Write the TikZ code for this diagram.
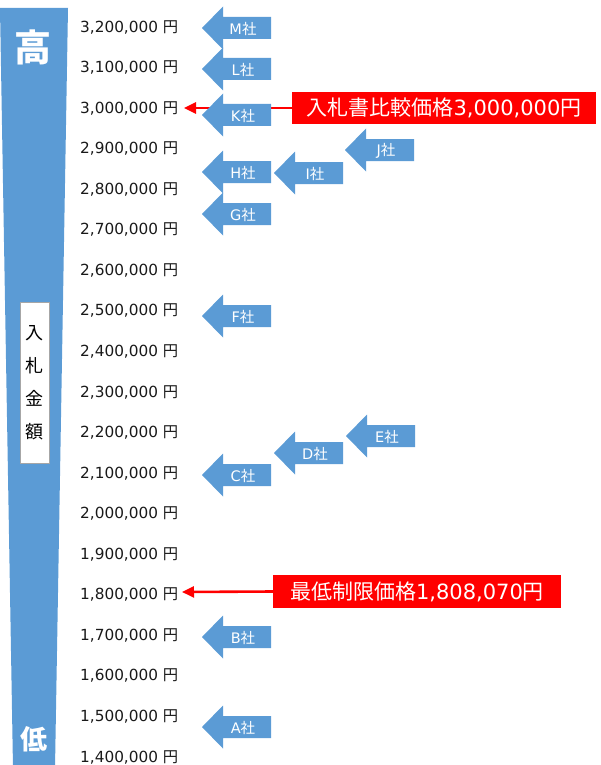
\documentclass[tikz,border=0pt]{standalone}
\usepackage{fontspec}
\setmainfont{DejaVu Sans}
\newfontfamily\cjk{Noto Sans CJK JP}
\usetikzlibrary{arrows.meta}
\definecolor{officeblue}{HTML}{5B9BD5}
\definecolor{boxgray}{HTML}{A6A6A6}
\tikzset{
  axislabel/.style={anchor=west,inner sep=0pt,font=\fontsize{15.3}{18}\selectfont,text=black!90},
  arrlabel/.style={inner sep=0pt,text=white,font=\fontsize{14.5}{16}\selectfont},
  redbox/.style={fill=red,text=white,inner sep=0pt,font=\fontsize{21}{24}\selectfont},
  redline/.style={draw=red,line width=2.6pt,-{Triangle[length=12pt,width=11pt]}},
  blockarrow/.style={fill=officeblue}
}
\newcommand\blk[4]{%
  \fill[blockarrow] (#2,#3) -- ++(21,-21.5) -- ++(0,10.5) -- ++(48,0) -- ++(0,22) -- ++(-48,0) -- ++(0,10.5) -- cycle;
  \node[arrlabel] (#1) at ({#2+41},{#3+1}) {#4};}
\begin{document}
\begin{tikzpicture}[x=1pt,y=-1pt]
\useasboundingbox (0,0) rectangle (600,765);
% left bar
\fill[officeblue] (0,8) -- (68,8) -- (55,768) -- (13,768) -- cycle;
\node[text=white,inner sep=0pt,font=\cjk\bfseries\fontsize{37}{40}\selectfont] (high) at (33,47) {高};
\node[text=white,inner sep=0pt,font=\cjk\bfseries\fontsize{27}{30}\selectfont] (low) at (34,739) {低};
\node[fill=white,draw=boxgray,line width=0.8pt,minimum width=29pt,minimum height=161pt,inner sep=0pt,
      align=center,font=\cjk\fontsize{18}{33}\selectfont] (amount) at (34.5,383) {入\\札\\金\\額};
% axis labels
\foreach \a/\b [count=\i from 0] in {3/200,3/100,3/000,2/900,2/800,2/700,2/600,2/500,2/400,2/300,2/200,2/100,2/000,1/900,1/800,1/700,1/600,1/500,1/400}{
  \node[axislabel] (v\i) at (80,{27+40.56*\i}) {\a,\b,000 {\cjk 円}};
}
% red connectors
\node[redbox,minimum width=304pt,minimum height=32pt] (cmp) at (444,108) {{\cjk 入札書比較価格}3,000,000{\cjk 円}};
\coordinate (cmptip) at (184,108);
\draw[redline] (cmp.west) -- (cmptip);
\node[redbox,minimum width=288pt,minimum height=33pt] (minp) at (417,591.5) {{\cjk 最低制限価格}1,808,070{\cjk 円}};
\coordinate (mintip) at (182,592);
\draw[redline] (minp.west) -- (mintip);
% company arrows
\blk{M}{202}{28}{M{\cjk 社}}
\blk{L}{202}{69}{L{\cjk 社}}
\blk{K}{202}{115}{K{\cjk 社}}
\blk{J}{345}{150}{J{\cjk 社}}
\blk{H}{202}{172}{H{\cjk 社}}
\blk{I}{274}{173}{I{\cjk 社}}
\blk{G}{202}{214}{G{\cjk 社}}
\blk{F}{202}{316}{F{\cjk 社}}
\blk{E}{346}{436}{E{\cjk 社}}
\blk{D}{274}{453}{D{\cjk 社}}
\blk{C}{202}{475}{C{\cjk 社}}
\blk{B}{202}{637}{B{\cjk 社}}
\blk{A}{202}{727}{A{\cjk 社}}
\end{tikzpicture}
\end{document}
